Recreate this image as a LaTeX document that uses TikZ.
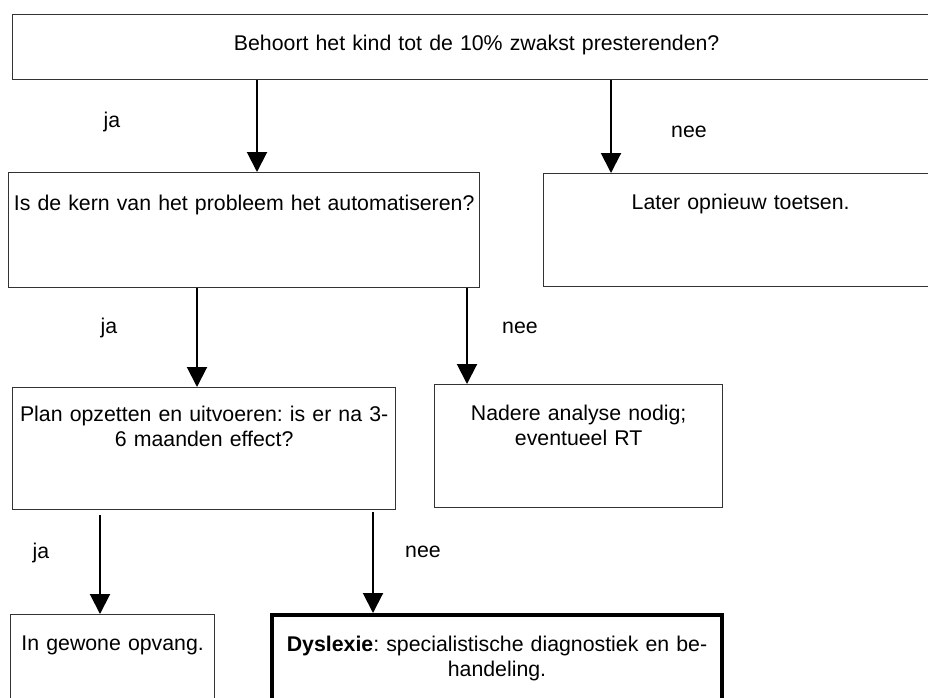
\documentclass[tikz,border=0pt]{standalone}
\usepackage{fontspec}
\setmainfont{Liberation Sans}
\usetikzlibrary{arrows.meta,positioning}

\begin{document}
\frenchspacing
\begin{tikzpicture}[x=1pt, y=-1pt,
    blok/.style={draw=black!80, line width=1.3pt, anchor=north west, inner sep=0pt, align=center, text height=36pt, font=\fontsize{21.3}{25}\selectfont},
    pijl/.style={line width=2pt, -{Triangle[width=20pt, length=20pt]}},
    keuze/.style={inner sep=0pt, font=\fontsize{21.3}{25}\selectfont}
  ]
  \useasboundingbox (0,0) rectangle (928,697);
  \clip (0,0) rectangle (928,697);

  % Vraag 1: zwakst presterenden
  \node[blok, text width=928pt, text depth=29pt] (v1) at (12,14) {Behoort het kind tot de 10\% zwakst presterenden?};

  % Vraag 2: automatiseren
  \node[blok, text width=471pt, text height=38pt, text depth=77pt] (v2) at (8,172) {Is de kern van het probleem het automatiseren?};
  \node[blok, text width=394pt, text depth=77pt] (later) at (543,173) {Later opnieuw toetsen.};

  % Vraag 3: plan en effect
  \node[blok, text width=383pt, text height=34pt, text depth=88pt] (plan) at (12,387) {Plan opzetten en uitvoeren: is er na 3-\\6 maanden effect?};
  \node[blok, text width=288pt, text depth=87pt] (nadere) at (434,384) {Nadere analyse nodig;\\eventueel RT};

  % Uitkomsten
  \node[blok, text width=204pt, text depth=64pt] (opvang) at (10,614) {In gewone opvang.};
  \node[blok, draw=black, line width=4pt, text width=450pt, text depth=64pt] (dyslexie) at (270,613) {\textbf{Dyslexie}: specialistische diagnostiek en be-\\handeling.};

  % pijlen
  \draw[pijl] (v1.south -| 257,0) -- (v2.north -| 257,0);
  \draw[pijl] (v1.south -| 611,0) -- (later.north -| 611,0);
  \draw[pijl] (v2.south -| 197,0) -- (plan.north -| 197,0);
  \draw[pijl] (v2.south -| 467,0) -- (nadere.north -| 467,0);
  \draw[pijl, shorten <=5pt] (plan.south -| 100,0) -- (opvang.north -| 100,0);
  \draw[pijl, shorten <=2pt] (plan.south -| 373,0) -- (dyslexie.north -| 373,0);

  % ja / nee
  \node[keuze] (ja1) at (112,122) {ja};
  \node[keuze] (nee1) at (689,132) {nee};
  \node[keuze] (ja2) at (109,328) {ja};
  \node[keuze] (nee2) at (520,328) {nee};
  \node[keuze] (ja3) at (41,553) {ja};
  \node[keuze] (nee3) at (423,552) {nee};
\end{tikzpicture}
\end{document}
